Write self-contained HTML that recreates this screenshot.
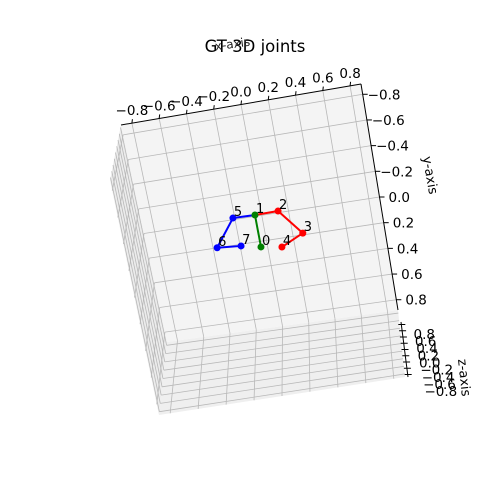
<!DOCTYPE html>
<html><head><meta charset="utf-8"><style>
body{margin:0;background:#fff}
svg{display:block;font-family:"DejaVu Sans","Liberation Sans",sans-serif}
</style></head><body>
<svg id="c" width="500" height="500" viewBox="0 0 500 500">
<text x="255" y="52" font-size="16.5" text-anchor="middle">GT 3D joints</text>
<text x="233" y="48" font-size="12" text-anchor="middle" fill="#222" transform="rotate(-8 233 48)">x-axis</text>
<text x="426" y="176" font-size="13" text-anchor="middle" transform="rotate(80 426 176)">y-axis</text>
<text x="460" y="378" font-size="13" text-anchor="middle" transform="rotate(84 460 378)">z-axis</text>
</svg>
<script>
const ticks=[-0.8,-0.6,-0.4,-0.2,0.0,0.2,0.4,0.6,0.8];
const xTickLabels=["−0.8","−0.6","−0.4","−0.2","0.0","0.2","0.4","0.6","0.8"];
const yTickLabels=["−0.8","−0.6","−0.4","−0.2","0.0","0.2","0.4","0.6","0.8"];
const zTickLabels=["0.8","0.6","0.4","0.2","0.0","−0.2","−0.4","−0.6","−0.8"];
const jointX=[-0.049,-0.049,0.124,0.275,0.104,-0.213,-0.370,-0.193];
const jointY=[0.244,-0.010,-0.013,0.186,0.269,-0.013,0.199,0.213];
const jointLabels=["0","1","2","3","4","5","6","7"];
const bones=[[0,1,"green"],[1,2,"red"],[2,3,"red"],[3,4,"red"],[1,5,"blue"],[5,6,"blue"],[6,7,"blue"]];
const R=0.88;
const svg=document.getElementById('c');
const NS='http://www.w3.org/2000/svg';
const A=[121,125],B=[361,84],C=[398,310],D=[167,342],Cp=[405,377],Dp=[159,415],Ap=[110,180];
function lerp(p,q,t){return [p[0]+(q[0]-p[0])*t,p[1]+(q[1]-p[1])*t];}
function tt(v){return (v+R)/(2*R);}
function quad(P00,P10,P11,P01,u,v){const a=lerp(P00,P10,u),b=lerp(P01,P11,u);return lerp(a,b,v);}
function proj(x,y){return quad(A,B,C,D,tt(x),tt(y));}
function mk(tag,attrs,parent){const e=document.createElementNS(NS,tag);for(const k in attrs)e.setAttribute(k,attrs[k]);(parent||svg).appendChild(e);return e;}
function poly(pts,fill,name){const e=mk('polygon',{points:pts.map(p=>p.join(',')).join(' '),fill:fill,stroke:'none'});

}
function line(p,q,stroke,w,name){const e=mk('line',{x1:p[0],y1:p[1],x2:q[0],y2:q[1],stroke:stroke,'stroke-width':w});

return e;}
poly([A,Ap,Dp,D],'#ececec','left-pane');
poly([D,C,Cp,Dp],'#efefef','front-pane');
poly([A,B,C,D],'#f4f4f4','top-pane');
const g='#b8b8b8';
ticks.forEach(v=>{
  const t=tt(v);
  line(lerp(A,B,t),lerp(D,C,t),g,0.8,'grid-x');
  line(lerp(A,D,t),lerp(B,C,t),g,0.8,'grid-y');
  line(lerp(D,C,t),lerp(Dp,Cp,t),g,0.8,'grid-x-front');
  line(lerp(D,Dp,t),lerp(C,Cp,t),g,0.8,'grid-z-front');
  line(lerp(A,D,t),lerp(Ap,Dp,t),g,0.8,'grid-y-left');
  line(lerp(A,Ap,t),lerp(D,Dp,t),g,0.8,'grid-z-left');
});
line(A,B,'#000',1,'x-axis-line');
line(B,C,'#000',1,'y-axis-line');
const Z0=[401,322],Z1=[408,377];
line(Z0,Z1,'#000',1,'z-axis-line');
ticks.forEach((v,i)=>{
  const t=tt(v);
  const p=lerp(A,B,t);
  line(p,[p[0]+0.5,p[1]-4],'#000',1,'x-tick');
  const tx=mk('text',{x:p[0],y:p[1]-8,'font-size':13.5,'text-anchor':'middle'});tx.textContent=xTickLabels[i];
  
  
  const q=lerp(B,C,t);
  line(q,[q[0]+5,q[1]],'#000',1,'y-tick');
  const ty=mk('text',{x:q[0]+(v<0?5:9),y:q[1]+5,'font-size':13.5});ty.textContent=yTickLabels[i];
  
  
  const z=lerp(Z0,Z1,t);
  line([z[0]-3,z[1]],[z[0]+4,z[1]],'#000',1,'z-tick');
  const zl=lerp([413,336],[425,399],t);
  const tz=mk('text',{x:zl[0],y:zl[1],'font-size':13.5});tz.textContent=zTickLabels[i];
  
  
});
bones.forEach(b=>{
  const p=proj(jointX[b[0]],jointY[b[0]]),q=proj(jointX[b[1]],jointY[b[1]]);
  line(p,q,b[2],2,'bone-'+b[0]+'-'+b[1]);
});
const colors=["green","green","red","red","red","blue","blue","blue"];
jointX.forEach((x,i)=>{
  const p=proj(x,jointY[i]);
  const c=mk('circle',{cx:p[0],cy:p[1],r:3.5,fill:colors[i]});
  
  
  const t=mk('text',{x:p[0]+1,y:p[1]-2,'font-size':13});t.textContent=jointLabels[i];
  
  
});
</script>
</body></html>
